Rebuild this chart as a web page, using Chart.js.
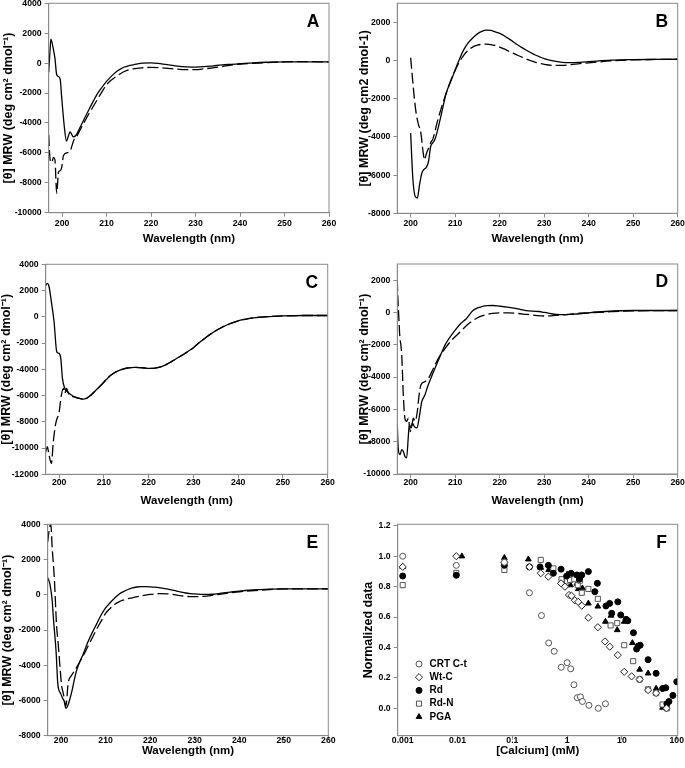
<!DOCTYPE html>
<html>
<head>
<meta charset="utf-8">
<script src="https://cdn.jsdelivr.net/npm/chart.js@4.4.0/dist/chart.umd.min.js"></script>
<style>
html, body { margin: 0; padding: 0; background: #fff; width: 685px; height: 768px; overflow: hidden; }
.panel { position: absolute; }
.panel canvas { display: block; }
</style>
</head>
<body>
<div class="panel" id="pA"><canvas></canvas></div>
<div class="panel" id="pB"><canvas></canvas></div>
<div class="panel" id="pC"><canvas></canvas></div>
<div class="panel" id="pD"><canvas></canvas></div>
<div class="panel" id="pE"><canvas></canvas></div>
<div class="panel" id="pF"><canvas></canvas></div>
<script>
// ---- CD spectra (wavelength nm / MRW) ----
const aSolidNm  = [197, 197.25, 197.5, 198, 198.4, 198.8, 199.2, 199.6, 199.9, 200.5, 201, 201.4, 201.8, 202.2, 202.5, 203.1, 204, 205, 206, 207, 208, 209, 210, 211, 212, 213, 214, 215, 216, 217, 218, 220, 222, 224, 226, 228, 230, 232, 234, 236, 238, 240, 243, 246, 250, 255, 260];
const aSolidVal = [-600, 600, 1600, 1000, 330, -780, -890, -1110, -2220, -4220, -5220, -4890, -4600, -4780, -4930, -4840, -4330, -3720, -3130, -2560, -2020, -1600, -1220, -900, -620, -420, -260, -170, -110, -50, 0, 20, -30, -110, -200, -250, -270, -240, -180, -120, -80, -40, 20, 60, 90, 90, 80];
const aDashNm   = [197, 197.3, 197.7, 198.05, 198.4, 198.8, 199.2, 199.55, 199.9, 200.3, 201, 201.8, 202.2, 202.7, 203.3, 204, 205, 206, 207, 208, 209, 210, 211, 212, 213, 214, 216, 218, 220, 222, 225, 228, 230, 232, 235, 238, 240, 245, 250, 255, 260];
const aDashVal  = [-4800, -6400, -6650, -6300, -6450, -8700, -7300, -7200, -7000, -6200, -6000, -5900, -5550, -5100, -4900, -4500, -3950, -3400, -2900, -2400, -1900, -1450, -1150, -930, -730, -560, -380, -310, -290, -300, -380, -440, -440, -380, -270, -130, -70, 20, 90, 100, 80];

const bSolidNm  = [200, 200.5, 201, 201.5, 202, 202.5, 203, 203.5, 204, 204.5, 205, 205.5, 206, 207, 208, 209, 210, 211, 212, 213, 214, 215, 216, 217, 218, 219, 220, 221, 222, 223, 224, 225, 226, 227, 228, 229, 230, 232, 234, 236, 238, 240, 245, 250, 255, 260];
const bSolidVal = [-3800, -6200, -7100, -7200, -6500, -5900, -5700, -5600, -5300, -4500, -4300, -4100, -3700, -2700, -1700, -1100, -500, 100, 600, 950, 1200, 1400, 1530, 1590, 1580, 1500, 1420, 1300, 1150, 990, 830, 680, 540, 410, 290, 190, 100, -20, -90, -110, -90, -60, 20, 50, 60, 70];
const bDashNm   = [200, 200.4, 200.8, 201.2, 201.7, 202.3, 202.8, 203.1, 203.5, 204, 204.5, 205, 206, 207, 208, 209, 210, 211, 212, 213, 214, 215, 216, 217, 218, 219, 220, 221, 222, 223, 224, 225, 226, 227, 228, 230, 232, 234, 236, 238, 240, 245, 250, 255, 260];
const bDashVal  = [150, -900, -1900, -2700, -3300, -3800, -4800, -5200, -4900, -4600, -4300, -4100, -3200, -2400, -1700, -1050, -500, -50, 300, 550, 720, 810, 850, 860, 840, 790, 710, 610, 500, 390, 280, 180, 80, -10, -90, -200, -250, -250, -210, -160, -120, -20, 40, 60, 70];

const cSolidNm  = [197, 197.36, 197.75, 198.27, 198.87, 199.47, 200, 200.37, 200.74, 201.27, 201.87, 202.5, 203.4, 204.3, 205.3, 206.2, 207.1, 208.2, 209.4, 210.5, 211.6, 212.7, 213.9, 215, 216, 217, 218, 219, 220, 221, 222, 223, 224, 225, 226, 227, 228, 229, 230, 231, 232, 233, 234, 235, 236, 237, 238, 239, 240, 241, 242, 244, 246, 250, 255, 260];
const cSolidVal = [2400, 2540, 2290, 1140, -380, -2670, -2790, -3170, -4690, -5460, -5710, -5900, -6100, -6200, -6270, -6200, -5970, -5600, -5200, -4800, -4440, -4200, -4020, -3920, -3870, -3860, -3870, -3900, -3930, -3930, -3880, -3780, -3620, -3430, -3230, -3020, -2820, -2590, -2350, -2050, -1780, -1520, -1280, -1060, -870, -700, -550, -420, -310, -220, -150, -60, 0, 70, 100, 100];
const cDashNm   = [197, 197.36, 197.75, 198.27, 198.7, 199.25, 200, 200.5, 200.97, 201.27, 201.64, 202.25, 203.4, 204.3, 205.3, 206.2, 207.1, 208.2, 209.4, 210.5, 211.6, 212.7, 213.9, 215, 216, 217, 218, 219, 220, 221, 222, 223, 224, 225, 226, 227, 228, 229, 230, 231, 232, 233, 234, 235, 236, 237, 238, 239, 240, 241, 242, 244, 246, 250, 255, 260];
const cDashVal  = [-10300, -9900, -10540, -11170, -9520, -8120, -7240, -5970, -5460, -5840, -5460, -5970, -6100, -6200, -6270, -6200, -5970, -5600, -5200, -4800, -4440, -4200, -4020, -3920, -3870, -3860, -3870, -3900, -3930, -3930, -3880, -3780, -3620, -3430, -3230, -3020, -2820, -2590, -2350, -2050, -1780, -1520, -1280, -1060, -870, -700, -550, -420, -310, -220, -150, -60, 0, 70, 100, 100];

const dSolidNm  = [197, 197.2, 197.6, 198, 198.35, 198.7, 199.1, 199.5, 199.7, 200.1, 200.4, 200.8, 201.4, 201.9, 202.5, 203.2, 203.8, 205, 206.4, 207.9, 210, 211.2, 212.5, 214, 215, 216.1, 217.2, 218.4, 219.5, 220.6, 221.7, 222.8, 224.4, 225.9, 227.4, 228.9, 230, 231.3, 232.7, 234.8, 236.4, 237.9, 240, 243.7, 250, 255, 260];
const dSolidVal = [-6950, -8400, -8800, -8490, -8600, -8900, -9000, -7570, -6950, -7150, -6850, -7050, -7150, -6540, -5520, -5110, -4600, -3770, -2850, -1930, -1100, -700, -390, 120, 280, 370, 420, 430, 410, 370, 330, 290, 200, 120, 80, 60, 0, -60, -120, -140, -110, -80, -20, 60, 120, 120, 120];
const dDashNm   = [197, 197.1, 197.4, 197.5, 198, 198.35, 198.7, 199.1, 199.5, 199.9, 200.3, 200.6, 201, 201.5, 201.9, 202.3, 203.2, 204, 205.1, 206.2, 207.7, 209.2, 211.1, 213, 215.3, 217, 218.4, 220, 222, 224, 226, 228, 230, 232, 234, 236, 238, 240, 245, 250, 255, 260];
const dDashVal  = [2000, 1050, -600, -1210, -2650, -5110, -6540, -6740, -6540, -7370, -6950, -6540, -6740, -6130, -5110, -4490, -4290, -4080, -3470, -2850, -2240, -1720, -1210, -700, -290, -140, -60, -30, -30, -60, -120, -180, -220, -200, -150, -100, -50, -20, 50, 100, 110, 120];

const eSolidNm  = [197, 197.5, 198, 198.3, 198.9, 199.25, 199.5, 199.9, 200.3, 200.7, 201.1, 201.5, 202, 202.5, 203, 203.6, 204.3, 205, 206, 207, 208, 209, 210, 211, 212, 213, 214, 215, 216, 217, 218, 219, 220, 221, 222, 223, 224, 225, 226, 227, 228, 229, 230, 232, 234, 236, 238, 240, 243, 246, 250, 255, 260];
const eSolidVal = [970, 590, -300, -1400, -3300, -5000, -5400, -5600, -5850, -6050, -6450, -6300, -5900, -5400, -4800, -4200, -3750, -3350, -2700, -2150, -1650, -1150, -750, -450, -200, 30, 180, 300, 390, 440, 460, 460, 450, 430, 400, 360, 320, 270, 210, 150, 100, 70, 50, 20, 30, 90, 150, 210, 270, 310, 340, 340, 340];
const eDashNm   = [197, 197.4, 197.7, 198, 198.5, 199, 199.3, 199.7, 200.1, 200.5, 201.1, 201.6, 202.3, 203.2, 204, 205, 206, 207, 208, 209, 210, 211, 212, 213, 214, 215, 216, 218, 220, 222, 224, 226, 228, 230, 232, 234, 236, 238, 240, 245, 250, 255, 260];
const eDashVal  = [3000, 3800, 4000, 2700, 900, -1800, -2600, -3900, -5100, -5600, -6300, -5000, -4600, -4250, -3900, -3450, -2950, -2450, -1950, -1500, -1050, -780, -550, -400, -300, -220, -170, -60, 20, 60, 50, -20, -90, -110, -90, -30, 40, 110, 170, 270, 330, 340, 340];

const nmTicks = [200, 210, 220, 230, 240, 250, 260];
const aTicks = [-10000, -8000, -6000, -4000, -2000, 0, 2000, 4000];
const bTicks = [-8000, -6000, -4000, -2000, 0, 2000];
const cTicks = [-12000, -10000, -8000, -6000, -4000, -2000, 0, 2000, 4000];
const dTicks = [-10000, -8000, -6000, -4000, -2000, 0, 2000];
const eTicks = [-8000, -6000, -4000, -2000, 0, 2000, 4000];

// ---- calcium titration (mM / normalized) ----
const crtX = [0.001, 0.0095, 0.0716, 0.205, 0.34, 0.46, 0.58, 0.78, 1.0, 1.16, 1.33, 1.53, 1.75, 1.9, 2.5, 3.7, 5.0];
const crtY = [1.00, 0.94, 0.96, 0.76, 0.61, 0.43, 0.375, 0.27, 0.30, 0.26, 0.155, 0.07, 0.075, 0.045, 0.02, 0.0, 0.03];
const wtX  = [0.001, 0.0095, 0.0716, 0.205, 0.33, 0.454, 0.774, 0.91, 1.08, 1.2, 1.38, 1.59, 1.85, 2.44, 3.63, 4.9, 6.0, 8.4, 11, 15, 21, 30, 42, 65];
const wtY  = [0.93, 1.00, 0.96, 0.93, 0.888, 0.866, 0.822, 0.80, 0.745, 0.74, 0.71, 0.70, 0.675, 0.596, 0.533, 0.44, 0.405, 0.35, 0.24, 0.21, 0.19, 0.12, 0.10, 0.0];
const rdX  = [0.001, 0.0095, 0.0716, 0.205, 0.32, 0.454, 0.56, 0.774, 0.98, 1.18, 1.5, 1.67, 1.85, 2.44, 3.2, 3.56, 5.1, 5.95, 6.5, 8.4, 9.5, 11.9, 12.8, 16.2, 18.5, 19.9, 21.5, 30, 42, 55, 63, 66, 72, 85, 100];
const rdY  = [0.87, 0.875, 0.94, 0.93, 0.93, 0.94, 0.888, 0.915, 0.87, 0.888, 0.877, 0.849, 0.877, 0.899, 0.767, 0.822, 0.673, 0.69, 0.625, 0.70, 0.614, 0.585, 0.576, 0.497, 0.39, 0.41, 0.415, 0.32, 0.23, 0.13, 0.135, 0.03, 0.045, 0.085, 0.175];
const rdnX = [0.001, 0.0095, 0.0716, 0.33, 0.56, 0.79, 1.0, 1.13, 1.35, 1.56, 1.72, 1.85, 2.44, 3.63, 6.2, 8.2, 11, 16, 21, 30, 42, 55, 66];
const rdnY = [0.81, 0.89, 0.91, 0.976, 0.92, 0.849, 0.835, 0.844, 0.849, 0.81, 0.84, 0.76, 0.785, 0.72, 0.545, 0.56, 0.415, 0.31, 0.19, 0.125, 0.10, 0.025, 0.0];
const pgaX = [0.001, 0.012, 0.0716, 0.196, 0.33, 0.46, 0.82, 1.0, 1.15, 1.5, 1.6, 1.9, 2.44, 3.63, 5.0, 6.3, 8.2, 11, 15.5, 21, 30, 42, 55, 63];
const pgaY = [0.93, 1.00, 0.99, 0.98, 0.925, 0.91, 0.824, 0.88, 0.81, 0.82, 0.785, 0.79, 0.69, 0.67, 0.57, 0.61, 0.515, 0.57, 0.43, 0.255, 0.23, 0.13, 0.005, 0.01];
const caTicks = [0.001, 0.01, 0.1, 1, 10, 100];
const normTicks = [0, 0.2, 0.4, 0.6, 0.8, 1.0, 1.2];

// ---- geometry of each panel (plot box l,t,r,b in page px) ----
const layout = {
  A: { plot: [48.7, 3.3, 329, 212.7], col: 0, yTitleX: 9, xTitleY: 239, xLabelY: 224 },
  B: { plot: [397.3, 3.3, 677.7, 213.3], col: 340, yTitleX: 365, xTitleY: 239, xLabelY: 224 },
  C: { plot: [45.7, 264.3, 327.7, 474.3], col: 0, yTitleX: 7, xTitleY: 500.5, xLabelY: 483 },
  D: { plot: [397.3, 264, 677.7, 474], col: 340, yTitleX: 365, xTitleY: 500.5, xLabelY: 483 },
  E: { plot: [47.7, 524.3, 328.3, 735.7], col: 0, yTitleX: 8, xTitleY: 750.7, xLabelY: 741 },
  F: { plot: [397.7, 524.3, 677.7, 735.7], col: 340, yTitleX: 368.3, xTitleY: 750.7, xLabelY: 741 }
};

const FONT = '"Liberation Sans", Arial, Helvetica, sans-serif';
Chart.defaults.font.family = FONT;
Chart.defaults.color = '#000';
const frameGrey = '#8a8a8a';
const tickFont = { size: 8.7, weight: 'bold', lineHeight: 1.2 };
const titleFont = { size: 11.5, weight: 'bold', lineHeight: 1.2 };
const yTitleFont = { size: 12.5, weight: 'bold', lineHeight: 1.2 };
const TICK_LEN = 4;

function pts(xs, ys) { return xs.map((x, i) => ({ x: x, y: ys[i] })); }

function geometry(key) {
  const L = layout[key];
  const [l, t, r, b] = L.plot;
  const left = L.col, top = Math.floor(t) - 12;
  const width = Math.ceil(r) + 12 - left, height = Math.ceil(b) + 40 - top;
  const labelHalf = tickFont.size * tickFont.lineHeight / 2;
  return {
    left, top, width, height,
    padTop: t - top, padRight: left + width - r,
    yW: l - left, xH: top + height - b,
    yTitlePad: L.yTitleX - left - yTitleFont.size * yTitleFont.lineHeight / 2,
    xTitlePad: top + height - L.xTitleY - titleFont.size * titleFont.lineHeight / 2,
    xTickPad: L.xLabelY - b - TICK_LEN - labelHalf
  };
}

const framePlugin = {
  id: 'frame',
  afterDraw(chart) {
    const a = chart.chartArea, ctx = chart.ctx;
    ctx.save();
    ctx.strokeStyle = frameGrey;
    ctx.lineWidth = 1;
    ctx.strokeRect(a.left, a.top, a.right - a.left, a.bottom - a.top);
    ctx.restore();
  }
};

const tagPlugin = {
  id: 'panelTag',
  afterDraw(chart, args, opts) {
    const a = chart.chartArea, ctx = chart.ctx;
    ctx.save();
    ctx.font = 'bold 17.5px ' + FONT;
    ctx.fillStyle = '#000';
    ctx.textAlign = 'center';
    ctx.textBaseline = 'middle';
    ctx.fillText(opts.text, a.right - 16, a.top + 18.5);
    ctx.restore();
  }
};

// legend drawn inside the plot area of panel F
const insetLegend = {
  id: 'insetLegend',
  afterDraw(chart, args, opts) {
    if (!opts.show) return;
    const a = chart.chartArea, ctx = chart.ctx;
    ctx.save();
    chart.data.datasets.forEach((ds, i) => {
      const x = a.left + opts.left, y = a.top + opts.top + i * opts.row;
      ctx.fillStyle = ds.pointBackgroundColor;
      ctx.strokeStyle = ds.pointBorderColor;
      ctx.lineWidth = ds.pointBorderWidth;
      Chart.helpers.drawPoint(ctx, { pointStyle: ds.pointStyle, radius: ds.pointRadius, rotation: 0, borderWidth: ds.pointBorderWidth }, x, y);
      ctx.fillStyle = '#000';
      ctx.font = 'bold 10px ' + FONT;
      ctx.textAlign = 'left';
      ctx.textBaseline = 'middle';
      ctx.fillText(ds.label, x + opts.gap, y);
    });
    ctx.restore();
  }
};

function xAxis(g, type, min, max, ticks, title, fmt) {
  return {
    type: type, position: 'bottom', min: min, max: max,
    afterBuildTicks: s => { s.ticks = ticks.map(v => ({ value: v })); },
    afterFit: s => { s.height = g.xH; },
    grid: { drawOnChartArea: false, drawTicks: true, tickLength: TICK_LEN, color: frameGrey },
    border: { display: true, color: frameGrey },
    ticks: { autoSkip: false, maxRotation: 0, padding: g.xTickPad, font: tickFont, color: '#000', callback: fmt },
    title: { display: true, text: title, font: titleFont, color: '#000', padding: { top: 0, bottom: g.xTitlePad } }
  };
}

function yAxis(g, min, max, ticks, title, fmt) {
  return {
    type: 'linear', position: 'left', min: min, max: max,
    afterBuildTicks: s => { s.ticks = ticks.map(v => ({ value: v })); },
    afterFit: s => { s.width = g.yW; },
    grid: { drawOnChartArea: false, drawTicks: true, tickLength: TICK_LEN, color: frameGrey },
    border: { display: true, color: frameGrey },
    ticks: { autoSkip: false, padding: 3, font: tickFont, color: '#000', callback: fmt },
    title: { display: true, text: title, font: yTitleFont, color: '#000', padding: { top: g.yTitlePad, bottom: 0 } }
  };
}

function place(key) {
  const g = geometry(key);
  const wrap = document.getElementById('p' + key);
  wrap.style.left = g.left + 'px';
  wrap.style.top = g.top + 'px';
  const cv = wrap.querySelector('canvas');
  cv.width = g.width; cv.height = g.height;
  cv.style.width = g.width + 'px'; cv.style.height = g.height + 'px';
  return { g, cv };
}

const MRW = '[\u03B8] MRW (deg cm\u00B2 dmol\u207B\u00B9)';
const MRW_B = '[\u03B8] MRW (deg cm2 dmol-1)';
const plain = v => String(v);

function spectrum(key, solidNm, solidVal, dashNm, dashVal, yMin, yMax, yTicks, yTitle) {
  const { g, cv } = place(key);
  new Chart(cv, {
    type: 'line',
    data: {
      datasets: [
        { data: pts(solidNm, solidVal), borderColor: '#000', borderWidth: 1.3, pointRadius: 0, cubicInterpolationMode: 'monotone', fill: false },
        { data: pts(dashNm, dashVal), borderColor: '#000', borderWidth: 1.3, borderDash: [11, 4], pointRadius: 0, cubicInterpolationMode: 'monotone', fill: false }
      ]
    },
    options: {
      responsive: false, animation: false, events: [],
      layout: { padding: { top: g.padTop, right: g.padRight, left: 0, bottom: 0 } },
      plugins: { legend: { display: false }, tooltip: { enabled: false }, panelTag: { text: key } },
      scales: {
        x: xAxis(g, 'linear', 197, 260, nmTicks, 'Wavelength (nm)', plain),
        y: yAxis(g, yMin, yMax, yTicks, yTitle, plain)
      }
    },
    plugins: [framePlugin, tagPlugin]
  });
}

spectrum('A', aSolidNm, aSolidVal, aDashNm, aDashVal, -10000, 4000, aTicks, MRW);
spectrum('B', bSolidNm, bSolidVal, bDashNm, bDashVal, -8000, 3000, bTicks, MRW_B);
spectrum('C', cSolidNm, cSolidVal, cDashNm, cDashVal, -12000, 4000, cTicks, MRW);
spectrum('D', dSolidNm, dSolidVal, dDashNm, dDashVal, -10000, 3000, dTicks, MRW);
spectrum('E', eSolidNm, eSolidVal, eDashNm, eDashVal, -8000, 4000, eTicks, MRW);

// panel F: scatter on a log axis
(function () {
  const { g, cv } = place('F');
  const open = (label, xs, ys, style, r, edge) => ({
    label, data: pts(xs, ys), pointStyle: style, pointRadius: r,
    pointBackgroundColor: '#fff', pointBorderColor: edge, pointBorderWidth: 1, showLine: false
  });
  const solid = (label, xs, ys, style, r) => ({
    label, data: pts(xs, ys), pointStyle: style, pointRadius: r,
    pointBackgroundColor: '#000', pointBorderColor: '#000', pointBorderWidth: 1, showLine: false
  });
  new Chart(cv, {
    type: 'scatter',
    data: {
      datasets: [
        open('CRT C-t', crtX, crtY, 'circle', 3, '#555'),
        open('Wt-C', wtX, wtY, 'rectRot', 3.6, '#222'),
        solid('Rd', rdX, rdY, 'circle', 3),
        open('Rd-N', rdnX, rdnY, 'rect', 3.6, '#555'),
        solid('PGA', pgaX, pgaY, 'triangle', 3.3)
      ]
    },
    options: {
      responsive: false, animation: false, events: [],
      layout: { padding: { top: g.padTop, right: g.padRight, left: 0, bottom: 0 } },
      plugins: {
        legend: { display: false }, tooltip: { enabled: false },
        panelTag: { text: 'F' },
        insetLegend: { show: true, left: 21.3, top: 139.7, row: 13.2, gap: 10.5 }
      },
      scales: {
        x: xAxis(g, 'logarithmic', 0.00081, 104, caTicks, '[Calcium] (mM)', plain),
        y: yAxis(g, -0.18, 1.21, normTicks, 'Normalized data', v => v.toFixed(1))
      }
    },
    plugins: [framePlugin, tagPlugin, insetLegend]
  });
})();
</script>
</body>
</html>
